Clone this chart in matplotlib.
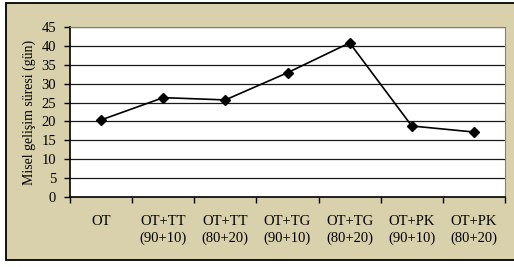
import matplotlib.pyplot as plt
from matplotlib.patches import Rectangle

categories = ['OT', 'OT+TT\n(90+10)', 'OT+TT\n(80+20)', 'OT+TG\n(90+10)',
              'OT+TG\n(80+20)', 'OT+PK\n(90+10)', 'OT+PK\n(80+20)']
values = [20.4, 26.3, 25.7, 32.9, 40.8, 18.8, 17.2]
yticks = [0, 5, 10, 15, 20, 25, 30, 35, 40, 45]

plt.rcParams['font.family'] = 'Liberation Serif'
bg = '#D8D1AB'

fig = plt.figure(figsize=(5.14, 2.67), dpi=100)
fig.patch.set_facecolor('white')
# outer chart frame (open on the right side)
fig.patches.append(Rectangle((5.5 / 514, 7.5 / 267), 2.0, 257 / 267,
                             transform=fig.transFigure, facecolor=bg,
                             edgecolor='black', linewidth=1.3, zorder=-1))

ax = fig.add_axes([70 / 514, (267 - 197) / 267, 435 / 514, 170 / 267])
ax.set_facecolor('white')

x = list(range(len(categories)))
ax.plot(x, values, color='black', linewidth=1.2, marker='D', markersize=5.5,
        zorder=3, clip_on=False)

ax.set_xlim(-0.5, len(categories) - 0.5)
ax.set_ylim(0, 45)
ax.set_yticks(yticks)
for y in yticks[1:]:
    ax.axhline(y, color='#1a1a1a', linewidth=0.9, zorder=1)

ax.set_xticks(x)
ax.set_xticklabels(categories, fontsize=10.5, linespacing=1.3)
ax.tick_params(axis='x', length=0, pad=13)
ax.set_xticks([i - 0.5 for i in range(len(categories) + 1)], minor=True)
ax.tick_params(axis='x', which='minor', length=4, direction='out', width=1)
ax.tick_params(axis='y', length=4, width=1, labelsize=10.5, pad=6)

ax.spines['left'].set_linewidth(1.2)
ax.spines['bottom'].set_linewidth(1.2)
ax.spines['top'].set_color('#808080')
ax.spines['right'].set_color('#808080')

ax.set_ylabel('Misel gelişim süresi (gün)', fontsize=10, labelpad=4)

plt.savefig('out.png', dpi=100)
